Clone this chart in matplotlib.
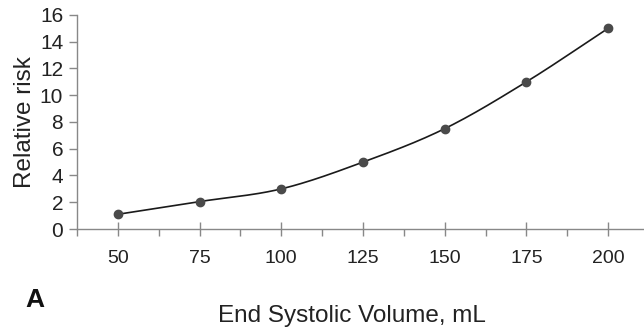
import matplotlib.pyplot as plt
import numpy as np
from matplotlib.ticker import MultipleLocator

plt.rcParams['font.family'] = ['Liberation Sans', 'DejaVu Sans']

# data
volume = [50, 75, 100, 125, 150, 175, 200]
risk = [1.1, 2.05, 3.0, 5.0, 7.5, 11.0, 15.0]


def smooth_line(x, y, n=30):
    # Catmull-Rom style smoothing, like a spreadsheet "smoothed line"
    x = np.asarray(x, float)
    y = np.asarray(y, float)
    px = np.concatenate([[2 * x[0] - x[1]], x, [2 * x[-1] - x[-2]]])
    py = np.concatenate([[2 * y[0] - y[1]], y, [2 * y[-1] - y[-2]]])
    xs, ys = [], []
    t = np.linspace(0, 1, n)
    for i in range(1, len(px) - 2):
        for arr, out in ((px, xs), (py, ys)):
            p0, p1, p2, p3 = arr[i - 1:i + 3]
            out.extend(0.5 * (2 * p1 + (-p0 + p2) * t
                              + (2 * p0 - 5 * p1 + 4 * p2 - p3) * t ** 2
                              + (-p0 + 3 * p1 - 3 * p2 + p3) * t ** 3))
    return xs, ys


fig = plt.figure(figsize=(6.44, 3.33), dpi=100)
ax = fig.add_axes([0.1196, 0.3123, 0.8804, 0.6427])

sx, sy = smooth_line(volume, risk)
ax.plot(sx, sy, color='#1a1a1a', lw=1.2, zorder=2)
ax.plot(volume, risk, 'o', color='#4a4a4a', ms=6, zorder=3)

ax.set_xlim(37.5, 211)
ax.set_ylim(0, 16)
ax.xaxis.set_major_locator(MultipleLocator(25))
ax.xaxis.set_minor_locator(MultipleLocator(12.5))
ax.yaxis.set_major_locator(MultipleLocator(2))

for s in ['top', 'right']:
    ax.spines[s].set_visible(False)
for s in ['left', 'bottom']:
    ax.spines[s].set_color('#888888')
    ax.spines[s].set_linewidth(1.0)

ax.tick_params(axis='y', direction='out', length=6, width=1, color='#888888',
               labelsize=15, labelcolor='#222222', pad=4)
ax.tick_params(axis='x', which='major', direction='inout', length=10, width=1,
               color='#888888', labelsize=14, labelcolor='#222222', pad=10)
ax.tick_params(axis='x', which='minor', direction='out', length=5, width=1,
               color='#888888')

ax.set_ylabel('Relative risk', fontsize=17.5, color='#222222', labelpad=3)
fig.text(0.546, 0.051, 'End Systolic Volume, mL', ha='center', va='center',
         fontsize=17.5, color='#222222')
fig.text(0.054, 0.099, 'A', ha='center', va='center', fontsize=19,
         fontweight='bold', color='#111111')

fig.savefig('out.png', dpi=100)
